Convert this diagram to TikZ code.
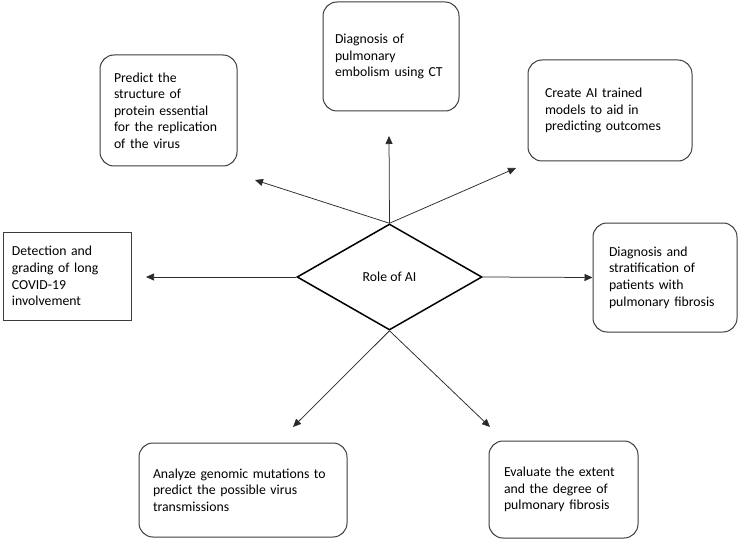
\documentclass[tikz,border=0pt]{standalone}
\usepackage{fontspec}
\setmainfont{Carlito}
\usetikzlibrary{shapes.geometric,arrows.meta}
\definecolor{boxgray}{HTML}{3C3C3C}
\definecolor{linegray}{HTML}{2A2A2A}
\begin{document}
\begin{tikzpicture}[x=1pt,y=-1pt,
  txt/.style={font=\fontsize{13.75}{16.6}\selectfont},
  box/.style={draw=boxgray,line width=1pt,rounded corners=14pt,align=left,inner ysep=0pt,txt},
  sqbox/.style={draw=boxgray,line width=1pt,align=left,inner ysep=0pt,txt},
  conn/.style={draw=linegray,line width=0.75pt,-{Triangle[length=8pt,width=7pt]}},
]
\fill[white] (0,0) rectangle (738,540);
\useasboundingbox (0,0) rectangle (738,540);

% central diamond
\node[diamond,draw=black,line width=1.5pt,aspect=1.745,minimum width=185pt,minimum height=106pt,inner sep=0pt,txt] (ai) at (389.5,277) {Role of AI};

% boxes
\node[box,text width=109pt,inner xsep=14pt,minimum height=111pt] (tl) at (168.5,110.5)
  {Predict the\\structure of\\protein essential\\for the replication\\of the virus};
\node[box,text width=112pt,inner xsep=12pt,minimum height=109pt] (top) at (391,56.5)
  {Diagnosis of\\pulmonary\\\mbox{embolism using CT}};
\node[box,text width=130pt,inner xsep=17pt,minimum height=101pt] (tr) at (610,110.5)
  {Create AI trained\\models to aid in\\predicting outcomes};
\node[sqbox,text width=110pt,inner xsep=9pt,minimum height=88pt] (lf) at (67,276)
  {Detection and\\grading of long\\COVID-19\\involvement};
\node[box,text width=112pt,inner xsep=16pt,minimum height=109pt] (rt) at (665,277.5)
  {Diagnosis and\\stratification of\\patients with\\\mbox{pulmonary fibrosis}};
\node[box,text width=180pt,inner xsep=14pt,minimum height=94pt] (bl) at (243,490)
  {Analyze genomic mutations to\\predict the possible virus\\transmissions};
\node[box,text width=119pt,inner xsep=15pt,minimum height=97pt] (br) at (563.5,489.5)
  {Evaluate the extent\\and the degree of\\pulmonary fibrosis};

% arrow tips (free ends)
\coordinate (tlTip) at (255,180);
\coordinate (topTip) at (389,136);
\coordinate (trTip) at (516,168);
\coordinate (lfTip) at (146,277);
\coordinate (blTip) at (293,427);
\coordinate (brTip) at (490,427);

% connectors
\draw[conn] (ai.north) -- (tlTip);
\draw[conn] (ai.north) -- (topTip);
\draw[conn] (ai.north) -- (trTip);
\draw[conn] (ai.west) -- (lfTip);
\draw[conn] (ai.east) -- (rt.west);
\draw[conn] (ai.south) -- (blTip);
\draw[conn] (ai.south) -- (brTip);
\end{tikzpicture}
\end{document}
